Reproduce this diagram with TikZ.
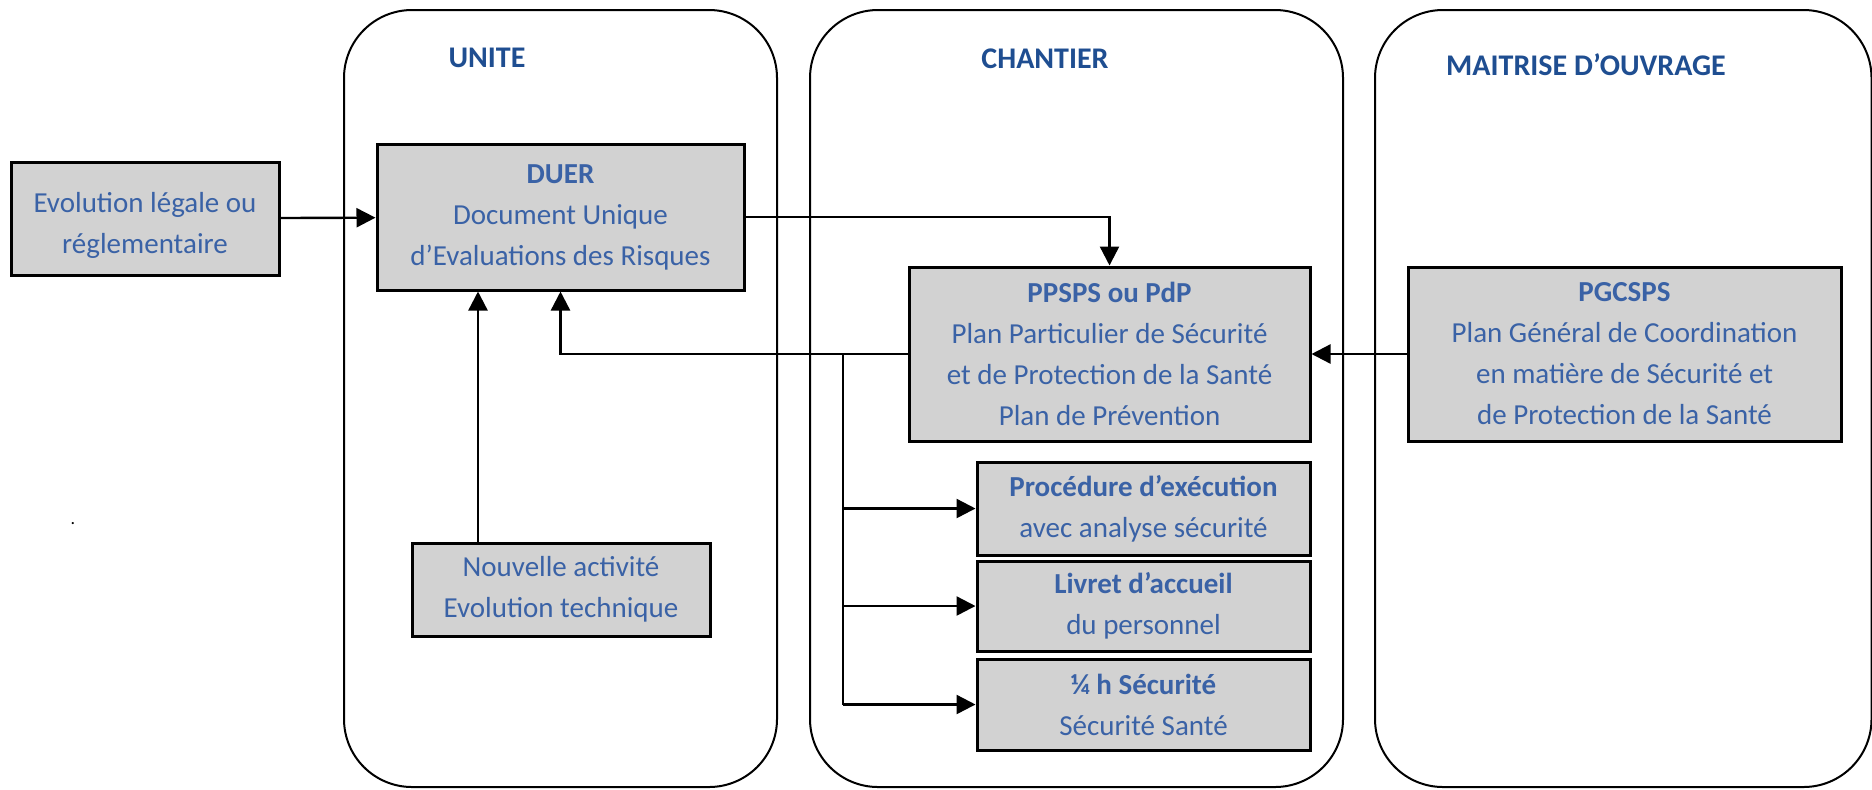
\documentclass[tikz,border=0pt]{standalone}
\usepackage{fontspec}
\setmainfont{Carlito}
\usepackage{tikz}
\usetikzlibrary{shapes.geometric, arrows.meta}
\definecolor{titleblue}{RGB}{31,78,145}
\definecolor{boxblue}{RGB}{58,98,166}
\definecolor{boxgray}{RGB}{210,210,210}
\tikzstyle{zone} = [rectangle, rounded corners=34pt, draw=black, line width=1pt]
\tikzstyle{zonetitle} = [text=titleblue, font=\fontsize{15}{18}\selectfont\bfseries]
\tikzstyle{docbox} = [rectangle, draw=black, line width=1.5pt, fill=boxgray,
    text=boxblue, align=center, inner sep=0pt,
    font=\fontsize{14.5}{20.5}\selectfont]
\tikzstyle{arrow} = [line width=1.2pt, -{Triangle[length=9.5pt,width=9.5pt]}]
\tikzstyle{link} = [line width=1.2pt]

\begin{document}
\begin{tikzpicture}[x=0.5pt, y=-0.5pt]
        \useasboundingbox (0,0) rectangle (1872,789);

        % Zones
        \node (unite) [zone, minimum width=216.5pt, minimum height=388.5pt] at (560.5,398.5) {};
        \node (chantier) [zone, minimum width=266.5pt, minimum height=388.5pt] at (1076.5,398.5) {};
        \node (moa) [zone, minimum width=248.25pt, minimum height=388.5pt] at (1623.25,398.5) {};

        \node (tunite) [zonetitle] at (487,58) {UNITE};
        \node (tchantier) [zonetitle] at (1045,59) {CHANTIER};
        \node (tmoa) [zonetitle] at (1586,65) {MAITRISE D’OUVRAGE};

        % Nodes
        \node (evol) [docbox, minimum width=134pt, minimum height=56.5pt] at (145,218.5)
            {\rule{0pt}{17pt}Evolution légale ou\\réglementaire};

        \node (duer) [docbox, minimum width=183.5pt, minimum height=73pt] at (560.5,217)
            {\textbf{DUER}\\Document Unique\\d’Evaluations des Risques};

        \node (nouv) [docbox, minimum width=149pt, minimum height=46.5pt] at (561,589.5)
            {Nouvelle activité\\Evolution technique};

        \node (ppsps) [docbox, minimum width=200.5pt, minimum height=87pt] at (1109.5,354)
            {\textbf{PPSPS ou PdP}\\Plan Particulier de Sécurité\\et de Protection de la Santé\\Plan de Prévention};

        \node (pgcsps) [docbox, minimum width=216.5pt, minimum height=87pt] at (1624.5,354)
            {\textbf{PGCSPS}\\Plan Général de Coordination\\en matière de Sécurité et\\de Protection de la Santé};

        \node (proc) [docbox, minimum width=166.5pt, minimum height=46.5pt] at (1143.5,508.5)
            {\textbf{Procédure d’exécution}\\avec analyse sécurité};

        \node (livret) [docbox, minimum width=166.5pt, minimum height=45pt] at (1143.5,606)
            {\textbf{Livret d’accueil}\\du personnel};

        \node (quart) [docbox, minimum width=166.5pt, minimum height=45.5pt] at (1143.5,704.5)
            {\textbf{¼ h Sécurité}\\Sécurité Santé};

        \node (dot) [font=\small] at (73,524) {.};

        \coordinate (split) at (843,354);
        \coordinate (up) at (478,543);

        % Arrows
        \draw [arrow] (evol) -- (duer);
        \draw [arrow] (duer.east) -| (ppsps.north);
        \draw [arrow] (pgcsps) -- (ppsps);
        \draw [arrow] (up) -- (up |- duer.south);
        \draw [arrow] (ppsps.west) -| (duer.south);
        \draw [link] (split) -- (split |- quart.west);
        \draw [arrow] (split |- proc.west) -- (proc.west);
        \draw [arrow] (split |- livret.west) -- (livret.west);
        \draw [arrow] (split |- quart.west) -- (quart.west);

    \end{tikzpicture}
\end{document}
